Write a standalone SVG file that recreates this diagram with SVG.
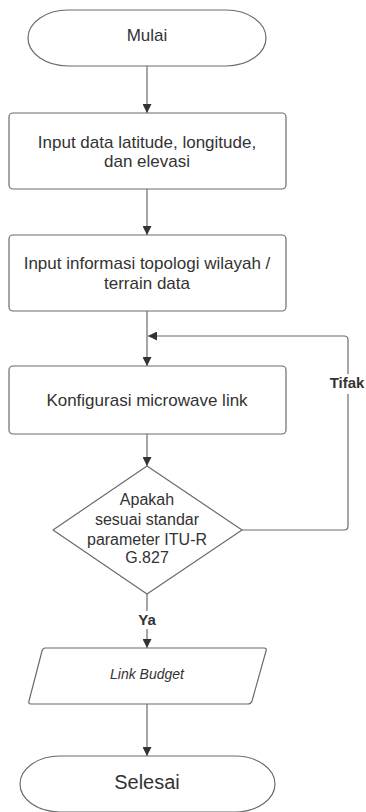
<svg xmlns="http://www.w3.org/2000/svg" width="366" height="812" viewBox="0 0 366 812">
<style>
.shape{fill:#fff;stroke:#6b6b6b;stroke-width:1.2}
.line{fill:none;stroke:#6b6b6b;stroke-width:1.2}
text{font-family:"Liberation Sans",Arial,sans-serif;fill:#333;text-anchor:middle}
.t17{font-size:17px}
.t16{font-size:16px}
.lbl{font-size:15px;font-weight:bold}
</style>
<defs>
<marker id="arr" viewBox="0 0 10 10" refX="10" refY="5" markerWidth="9" markerHeight="9" markerUnits="userSpaceOnUse" orient="auto">
<path d="M0,0 L10,5 L0,10 z" fill="#333"/>
</marker>
</defs>
<rect width="366" height="812" fill="#fff"/>
<g id="connectors">
<line class="line" x1="147" y1="66" x2="147" y2="113" marker-end="url(#arr)"/>
<line class="line" x1="147" y1="189" x2="147" y2="235" marker-end="url(#arr)"/>
<line class="line" x1="147" y1="311" x2="147" y2="366" marker-end="url(#arr)"/>
<line class="line" x1="147" y1="434" x2="147" y2="466" marker-end="url(#arr)"/>
<path class="line" d="M242,530 H344 Q348,530 348,526 V340 Q348,336 344,336 H148" marker-end="url(#arr)"/>
<line class="line" x1="147" y1="594" x2="147" y2="648" marker-end="url(#arr)"/>
<line class="line" x1="147" y1="704" x2="147" y2="756" marker-end="url(#arr)"/>
<rect x="327" y="374" width="40" height="20" fill="#fff"/>
<text class="lbl" x="347" y="388">Tifak</text>
<rect x="135" y="611" width="24" height="18" fill="#fff"/>
<text class="lbl" x="147" y="625">Ya</text>
</g>
<g id="mulai">
<path class="shape" d="M68,10 H226 A40,28 0 0 1 226,66 H68 A40,28 0 0 1 68,10 Z"/>
<text class="t17" x="147" y="41">Mulai</text>
</g>
<g id="input-data">
<rect class="shape" x="9" y="113" width="277" height="76" rx="4"/>
<text class="t17" x="147" y="148">Input data latitude, longitude,</text>
<text class="t17" x="147" y="167">dan elevasi</text>
</g>
<g id="input-topologi">
<rect class="shape" x="9" y="235" width="277" height="76" rx="4"/>
<text class="t17" x="147" y="269">Input informasi topologi wilayah /</text>
<text class="t17" x="147" y="289">terrain data</text>
</g>
<g id="konfigurasi">
<rect class="shape" x="9" y="366" width="277" height="68" rx="4"/>
<text class="t17" x="147" y="406">Konfigurasi microwave link</text>
</g>
<g id="keputusan">
<path class="shape" d="M147,466 L242,530 L147,594 L53,530 Z" stroke-linejoin="round"/>
<text class="t16" x="147" y="505">Apakah</text>
<text class="t16" x="147" y="525">sesuai standar</text>
<text class="t16" x="147" y="545">parameter ITU-R</text>
<text class="t16" x="147" y="563">G.827</text>
</g>
<g id="link-budget">
<path class="shape" d="M45,648 H264 Q267,648 266,651 L252,701 Q251,704 248,704 H31 Q28,704 29,701 L42,651 Q43,648 45,648 Z"/>
<text x="147" y="679" font-size="14" font-style="italic">Link Budget</text>
</g>
<g id="selesai">
<path class="shape" d="M60,756 H235 A40,28 0 0 1 235,812 H60 A40,28 0 0 1 60,756 Z"/>
<text x="147" y="789" font-size="20">Selesai</text>
</g>
</svg>
